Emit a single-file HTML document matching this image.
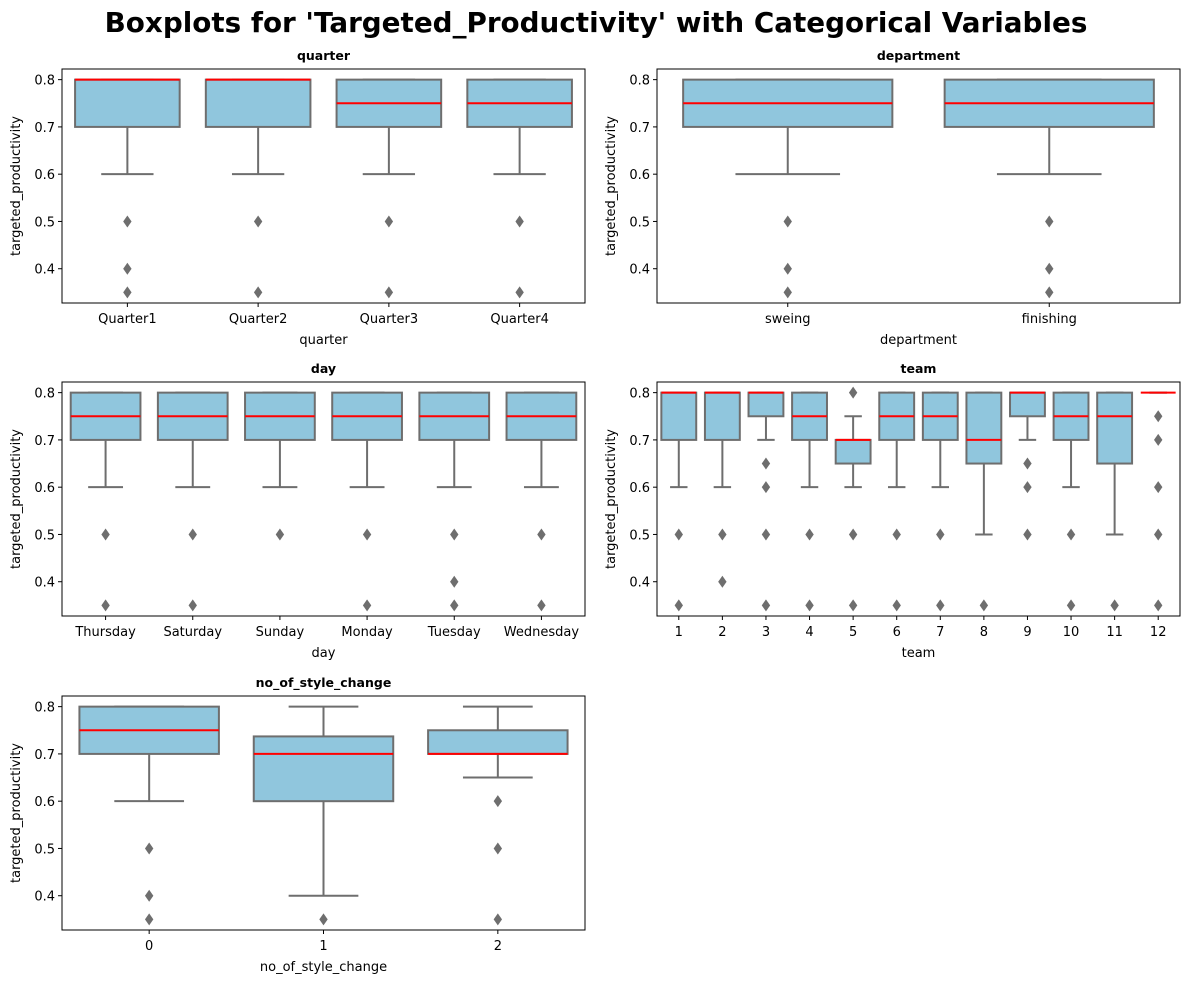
<!DOCTYPE html>
<html><head><meta charset="utf-8"><style>
body{margin:0;background:#fff;}
svg{display:block;font-family:"DejaVu Sans","Liberation Sans",sans-serif;}
</style></head><body>
<svg id="fig" width="1189" height="985" viewBox="0 0 1189 985">
<rect width="1189" height="985" fill="#fff"/>
<text x="596" y="32" text-anchor="middle" font-size="27.8" font-weight="bold">Boxplots for 'Targeted_Productivity' with Categorical Variables</text>
</svg>
<script>
// quarter
const quarterCats=["Quarter1","Quarter2","Quarter3","Quarter4"];
const quarterQ1=[0.7,0.7,0.7,0.7];
const quarterMed=[0.8,0.8,0.75,0.75];
const quarterQ3=[0.8,0.8,0.8,0.8];
const quarterLo=[0.6,0.6,0.6,0.6];
const quarterHi=[0.8,0.8,0.8,0.8];
const quarterOut=[[0.5,0.4,0.35],[0.5,0.35],[0.5,0.35],[0.5,0.35]];
// department
const deptCats=["sweing","finishing"];
const deptQ1=[0.7,0.7];
const deptMed=[0.75,0.75];
const deptQ3=[0.8,0.8];
const deptLo=[0.6,0.6];
const deptHi=[0.8,0.8];
const deptOut=[[0.5,0.4,0.35],[0.5,0.4,0.35]];
// day
const dayCats=["Thursday","Saturday","Sunday","Monday","Tuesday","Wednesday"];
const dayQ1=[0.7,0.7,0.7,0.7,0.7,0.7];
const dayMed=[0.75,0.75,0.75,0.75,0.75,0.75];
const dayQ3=[0.8,0.8,0.8,0.8,0.8,0.8];
const dayLo=[0.6,0.6,0.6,0.6,0.6,0.6];
const dayHi=[0.8,0.8,0.8,0.8,0.8,0.8];
const dayOut=[[0.5,0.35],[0.5,0.35],[0.5],[0.5,0.35],[0.5,0.4,0.35],[0.5,0.35]];
// team
const teamCats=["1","2","3","4","5","6","7","8","9","10","11","12"];
const teamQ1=[0.7,0.7,0.75,0.7,0.65,0.7,0.7,0.65,0.75,0.7,0.65,0.8];
const teamMed=[0.8,0.8,0.8,0.75,0.7,0.75,0.75,0.7,0.8,0.75,0.75,0.8];
const teamQ3=[0.8,0.8,0.8,0.8,0.7,0.8,0.8,0.8,0.8,0.8,0.8,0.8];
const teamLo=[0.6,0.6,0.7,0.6,0.6,0.6,0.6,0.5,0.7,0.6,0.5,0.8];
const teamHi=[0.8,0.8,0.8,0.8,0.75,0.8,0.8,0.8,0.8,0.8,0.8,0.8];
const teamOut=[[0.5,0.35],[0.5,0.4],[0.65,0.6,0.5,0.35],[0.5,0.35],[0.8,0.5,0.35],[0.5,0.35],[0.5,0.35],[0.35],[0.65,0.6,0.5],[0.5,0.35],[0.35],[0.75,0.7,0.6,0.5,0.35]];
// style change
const styleCats=["0","1","2"];
const styleQ1=[0.7,0.6,0.7];
const styleMed=[0.75,0.7,0.7];
const styleQ3=[0.8,0.737,0.75];
const styleLo=[0.6,0.4,0.65];
const styleHi=[0.8,0.8,0.8];
const styleOut=[[0.5,0.4,0.35],[0.35],[0.6,0.5,0.35]];
const yTicks=[0.4,0.5,0.6,0.7,0.8];

const NS="http://www.w3.org/2000/svg";
const svg=document.getElementById("fig");
function mk(tag,attrs,parent){const e=document.createElementNS(NS,tag);for(const k in attrs)e.setAttribute(k,attrs[k]);(parent||svg).appendChild(e);return e;}

function panel(name,title,x0,y0,cats,q1,med,q3,lo,hi,out){
  const W=523,H=234,ymin=0.3275,ymax=0.8225;
  const g=mk("g",{});
  
  
  const yS=v=>y0+H-(v-ymin)/(ymax-ymin)*H;
  const cw=W/cats.length;
  const xS=i=>x0+cw*(i+0.5);
  const t=mk("text",{x:x0+W/2,y:y0-9,"text-anchor":"middle","font-size":"12.5","font-weight":"bold"},g);
  t.textContent=title;
  
  
  yTicks.forEach(v=>{
    mk("line",{x1:x0-4,x2:x0,y1:yS(v),y2:yS(v),stroke:"#000","stroke-width":1},g);
    const tt=mk("text",{x:x0-7,y:yS(v)+5,"text-anchor":"end","font-size":"13"},g);
    tt.textContent=v.toFixed(1);
    
    
  });
  const bw=cw*0.8;
  cats.forEach((c,i)=>{
    const cx=xS(i);
    const bg=mk("g",{},g);
    
    
    const st={stroke:"#6e6e6e","stroke-width":2,fill:"none"};
    mk("line",Object.assign({x1:cx,x2:cx,y1:yS(q1[i]),y2:yS(lo[i])},st),bg);
    mk("line",Object.assign({x1:cx,x2:cx,y1:yS(q3[i]),y2:yS(hi[i])},st),bg);
    mk("line",Object.assign({x1:cx-bw/4,x2:cx+bw/4,y1:yS(lo[i]),y2:yS(lo[i])},st),bg);
    mk("line",Object.assign({x1:cx-bw/4,x2:cx+bw/4,y1:yS(hi[i]),y2:yS(hi[i])},st),bg);
    const hB=yS(q1[i])-yS(q3[i]);
    mk("rect",{x:cx-bw/2,y:yS(q3[i]),width:bw,height:Math.max(hB,0),fill:"#90c6dd",stroke:"#6e6e6e","stroke-width":2},bg);
    mk("line",{x1:cx-bw/2,x2:cx+bw/2,y1:yS(med[i]),y2:yS(med[i]),stroke:"#ff0000","stroke-width":2},bg);
    out[i].forEach(v=>{
      const y=yS(v);
      const p=mk("polygon",{points:`${cx},${y-6} ${cx+4.2},${y} ${cx},${y+6} ${cx-4.2},${y}`,fill:"#6e6e6e"},bg);
      
      
    });
    mk("line",{x1:cx,x2:cx,y1:y0+H,y2:y0+H+4,stroke:"#000","stroke-width":1},g);
    const xt=mk("text",{x:cx,y:y0+H+20,"text-anchor":"middle","font-size":"13"},g);
    xt.textContent=c;
    
    
  });
  mk("rect",{x:x0,y:y0,width:W,height:H,fill:"none",stroke:"#000","stroke-width":1},g);
  const xl=mk("text",{x:x0+W/2,y:y0+H+41,"text-anchor":"middle","font-size":"13"},g);
  xl.textContent=title;
  
  
  const yl=mk("text",{x:0,y:0,"text-anchor":"middle","font-size":"13",transform:`translate(${x0-42},${y0+H/2}) rotate(-90)`},g);
  yl.textContent="targeted_productivity";
  
  
}
panel("quarter","quarter",62,69,quarterCats,quarterQ1,quarterMed,quarterQ3,quarterLo,quarterHi,quarterOut);
panel("department","department",657,69,deptCats,deptQ1,deptMed,deptQ3,deptLo,deptHi,deptOut);
panel("day","day",62,382,dayCats,dayQ1,dayMed,dayQ3,dayLo,dayHi,dayOut);
panel("team","team",657,382,teamCats,teamQ1,teamMed,teamQ3,teamLo,teamHi,teamOut);
panel("style-change","no_of_style_change",62,696,styleCats,styleQ1,styleMed,styleQ3,styleLo,styleHi,styleOut);
</script>
</body></html>
